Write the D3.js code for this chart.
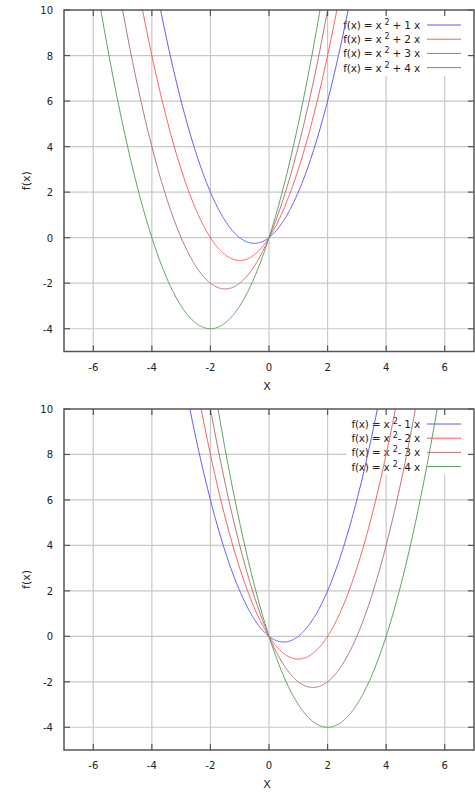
<!DOCTYPE html>
<html>
<head>
<meta charset="utf-8">
<script src="https://cdn.jsdelivr.net/npm/d3@7"></script>
<style>
  body { margin: 0; background: white; }
  text { font-family: "DejaVu Sans", sans-serif; fill: #222; }
</style>
</head>
<body>
<div id="chart"></div>
<script>
// Coefficients b of f(x) = x^2 + b x
const topCoefs = [1, 2, 3, 4];
const bottomCoefs = [-1, -2, -3, -4];
const colors = ["#5a5aff", "#ff5a5a", "#bb7070", "#5a9f5a"];
const xTicks = [-6, -4, -2, 0, 2, 4, 6];
const yTicks = [-4, -2, 0, 2, 4, 6, 8, 10];
const xDomain = [-7, 7];
const yDomain = [-5, 10];

const width = 475;
const height = 792;

const svg = d3.select("#chart").append("svg")
    .attr("width", width)
    .attr("height", height);

function drawPanel(coefs, top, bottom, legendLabel) {
  const left = 64, right = 474;
  const x = d3.scaleLinear().domain(xDomain).range([left, right]);
  const y = d3.scaleLinear().domain(yDomain).range([bottom, top]);
  const g = svg.append("g");

  // grid
  g.selectAll(".vgrid").data(xTicks).join("line")
      .attr("x1", d => x(d)).attr("x2", d => x(d))
      .attr("y1", top).attr("y2", bottom)
      .attr("stroke", "#c8c8c8").attr("stroke-width", 1.2);
  g.selectAll(".hgrid").data(yTicks.filter(d => d < 10)).join("line")
      .attr("x1", left).attr("x2", right)
      .attr("y1", d => y(d)).attr("y2", d => y(d))
      .attr("stroke", "#c8c8c8").attr("stroke-width", 1.2);

  // legend box and text
  const leg = g.append("g");
  const box = leg.append("rect").attr("fill", "white");
  const rowY = i => top + 15 + i * 14.2;
  const rows = coefs.map((b, i) => {
    const t = leg.append("text")
        .attr("x", 420).attr("y", rowY(i) + 4)
        .attr("text-anchor", "end")
        .attr("font-size", "10.5px")
        .attr("letter-spacing", "-0.2px");
    t.append("tspan").text("f(x) = x ");
    t.append("tspan").attr("dy", -4).attr("font-size", "8px").text("2");
    t.append("tspan").attr("dy", 4).text(legendLabel(b));
    return t;
  });
  const boxes = rows.map(t => t.node().getBBox());
  const bx0 = d3.min(boxes, d => d.x) - 5;
  box.attr("x", bx0).attr("y", top + 1)
     .attr("width", right - 5 - bx0)
     .attr("height", 65);

  // curves
  const clipId = "clip" + top;
  svg.append("clipPath").attr("id", clipId).append("rect")
      .attr("x", left).attr("y", top).attr("width", right - left).attr("height", bottom - top);
  const xs = d3.range(-7, 7.0001, 0.02);
  const line = d3.line().x(d => x(d[0])).y(d => y(d[1]));
  coefs.forEach((b, i) => {
    g.append("path")
        .attr("clip-path", `url(#${clipId})`)
        .attr("d", line(xs.map(v => [v, v * v + b * v])))
        .attr("fill", "none")
        .attr("stroke", colors[i])
        .attr("stroke-width", 1);
    leg.append("line")
        .attr("x1", 427).attr("x2", 461)
        .attr("y1", rowY(i)).attr("y2", rowY(i))
        .attr("stroke", colors[i]).attr("stroke-width", 1);
  });
  leg.raise();
  g.selectAll("path").raise();

  // frame
  g.append("rect")
      .attr("x", left).attr("y", top)
      .attr("width", right - left).attr("height", bottom - top)
      .attr("fill", "none").attr("stroke", "#555").attr("stroke-width", 1.5);

  // ticks (inward, mirrored)
  const tk = 6;
  xTicks.forEach(d => {
    g.append("line").attr("x1", x(d)).attr("x2", x(d)).attr("y1", bottom).attr("y2", bottom - tk)
        .attr("stroke", "#555").attr("stroke-width", 1.2);
    g.append("line").attr("x1", x(d)).attr("x2", x(d)).attr("y1", top).attr("y2", top + tk)
        .attr("stroke", "#555").attr("stroke-width", 1.2);
  });
  yTicks.forEach(d => {
    g.append("line").attr("x1", left).attr("x2", left + tk).attr("y1", y(d)).attr("y2", y(d))
        .attr("stroke", "#555").attr("stroke-width", 1.2);
    g.append("line").attr("x1", right).attr("x2", right - tk).attr("y1", y(d)).attr("y2", y(d))
        .attr("stroke", "#555").attr("stroke-width", 1.2);
  });

  // tick labels
  g.selectAll(".xl").data(xTicks).join("text")
      .attr("x", d => x(d)).attr("y", bottom + 19)
      .attr("text-anchor", "middle").attr("font-size", "10px")
      .text(d => d);
  g.selectAll(".yl").data(yTicks).join("text")
      .attr("x", 53).attr("y", d => y(d) + 4)
      .attr("text-anchor", "end").attr("font-size", "10px")
      .text(d => d);

  // axis titles
  g.append("text")
      .attr("x", 267).attr("y", bottom + 38)
      .attr("text-anchor", "middle").attr("font-size", "11px")
      .text("X");
  g.append("text")
      .attr("transform", `translate(30,${(top + bottom) / 2}) rotate(-90)`)
      .attr("text-anchor", "middle").attr("font-size", "11px")
      .text("f(x)");
}

drawPanel(topCoefs, 10, 351.5, b => ` + ${b} x`);
drawPanel(bottomCoefs, 409, 750, b => `- ${-b} x`);
</script>
</body>
</html>
